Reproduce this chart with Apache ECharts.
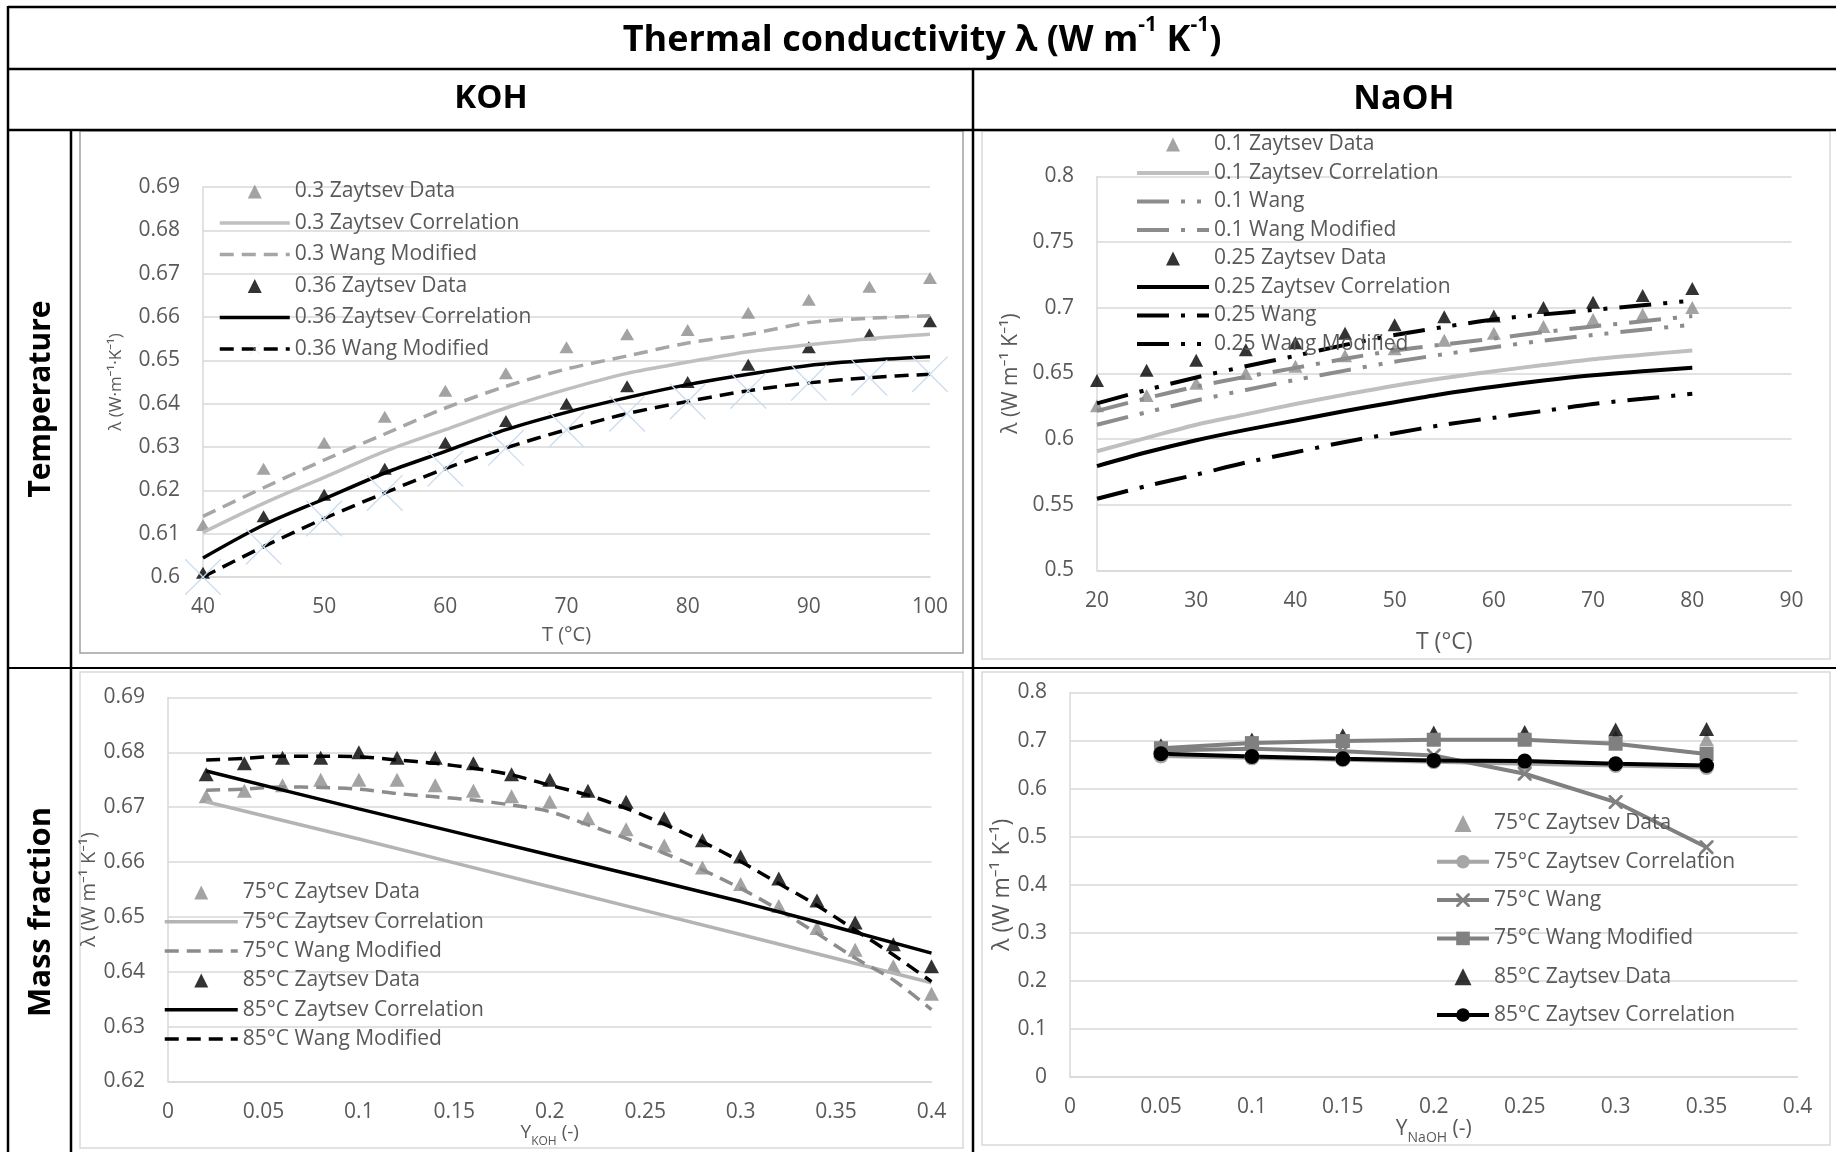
<!DOCTYPE html>
<html><head><meta charset="utf-8">
<script src="https://cdn.jsdelivr.net/npm/echarts@6/dist/echarts.min.js"></script>
<style>html,body{margin:0;padding:0;background:#fff}#c{width:1836px;height:1152px}</style>
</head><body><div id="c"></div>
<script>
// ---------------- DATA ----------------
// KOH vs temperature
const kohTemps = [40,45,50,55,60,65,70,75,80,85,90,95,100];
const koh03Data    = [0.612,0.625,0.631,0.637,0.643,0.647,0.653,0.656,0.657,0.661,0.664,0.667,0.669];
const koh03Corr    = [0.6103,0.617,0.623,0.629,0.634,0.639,0.6433,0.647,0.6496,0.652,0.6536,0.655,0.656];
const koh03WangMod = [0.614,0.6206,0.627,0.633,0.639,0.644,0.648,0.651,0.654,0.656,0.6587,0.6597,0.6603];
const koh036Data    = [0.601,0.614,0.619,0.625,0.631,0.636,0.640,0.644,0.645,0.649,0.653,0.656,0.659];
const koh036Corr    = [0.6044,0.612,0.618,0.624,0.629,0.634,0.638,0.6414,0.6444,0.6468,0.6488,0.650,0.6508];
const koh036WangMod = [0.600,0.607,0.6135,0.6194,0.625,0.6298,0.634,0.6377,0.6405,0.643,0.6448,0.646,0.6468];

// NaOH vs temperature
const naTemps = [20,25,30,35,40,45,50,55,60,65,70,75,80];
const na01Data    = [0.6255,0.6333,0.6425,0.650,0.6556,0.6635,0.6688,0.6753,0.6806,0.6858,0.6911,0.695,0.7003];
const na01Corr    = [0.5908,0.601,0.611,0.6189,0.6268,0.6339,0.6407,0.6465,0.6517,0.6564,0.6609,0.6643,0.6675];
const na01Wang    = [0.611,0.6205,0.6294,0.6375,0.6451,0.6522,0.659,0.6647,0.670,0.675,0.6793,0.6833,0.6871];
const na01WangMod = [0.6215,0.6312,0.640,0.6475,0.6543,0.6612,0.6675,0.6722,0.6766,0.6815,0.6858,0.6898,0.6937];
const na025Data    = [0.6446,0.6525,0.660,0.668,0.6735,0.6806,0.6871,0.6932,0.6937,0.7003,0.7042,0.7094,0.7147];
const na025Corr    = [0.5795,0.590,0.5992,0.6071,0.6142,0.6215,0.6281,0.6346,0.6399,0.6446,0.6486,0.6517,0.6543];
const na025Wang    = [0.5546,0.5643,0.573,0.5822,0.590,0.5979,0.6045,0.611,0.6163,0.6215,0.6268,0.6307,0.6346];
const na025WangMod = [0.6273,0.6375,0.647,0.6555,0.6635,0.6718,0.6793,0.6855,0.6911,0.695,0.6984,0.702,0.7055];

// KOH vs mass fraction
const kohFrac = [0.02,0.04,0.06,0.08,0.10,0.12,0.14,0.16,0.18,0.20,0.22,0.24,0.26,0.28,0.30,0.32,0.34,0.36,0.38,0.40];
const koh75Data = [0.672,0.673,0.674,0.675,0.675,0.675,0.674,0.673,0.672,0.671,0.668,0.666,0.663,0.659,0.656,0.652,0.648,0.644,0.641,0.636];
const koh85Data = [0.676,0.678,0.679,0.679,0.680,0.679,0.679,0.678,0.676,0.675,0.673,0.671,0.668,0.664,0.661,0.657,0.653,0.649,0.645,0.641];
const koh75WangMod = [0.6731,0.6733,0.6737,0.6736,0.6733,0.6725,0.6719,0.6713,0.6704,0.6692,0.6668,0.6643,0.6616,0.6586,0.6552,0.6513,0.647,0.6425,0.6385,0.6331];
const koh85WangMod = [0.6786,0.6789,0.6793,0.6793,0.6792,0.6786,0.678,0.6771,0.6759,0.674,0.6722,0.6698,0.6669,0.6637,0.6601,0.6561,0.6521,0.6476,0.6431,0.6382];
const kohCorrFrac = [0.02,0.10,0.20,0.30,0.40];
const koh75Corr = [0.671,0.6642,0.6555,0.6468,0.638];
const koh85Corr = [0.6766,0.6697,0.6613,0.6528,0.6434];

// NaOH vs mass fraction
const naFrac = [0.05,0.10,0.15,0.20,0.25,0.30,0.35];
const na75Data    = [0.686,0.695,0.702,0.706,0.707,0.707,0.702];
const na75Corr    = [0.668,0.664,0.660,0.656,0.652,0.648,0.644];
const na75Wang    = [0.6795,0.683,0.678,0.669,0.631,0.572,0.478];
const na75WangMod = [0.684,0.6947,0.699,0.7017,0.7017,0.6934,0.672];
const na85Data    = [0.690,0.702,0.711,0.717,0.718,0.723,0.724];
const na85Corr    = [0.6726,0.667,0.6622,0.6587,0.6573,0.6518,0.648];

// axis tick settings
const axT1 = {xmin:40, xmax:100, xint:10, ymin:0.6, ymax:0.69, yint:0.01};
const axT2 = {xmin:20, xmax:90, xint:10, ymin:0.5, ymax:0.8, yint:0.05};
const axM1 = {xmin:0, xmax:0.4, xint:0.05, ymin:0.62, ymax:0.69, yint:0.01};
const axM2 = {xmin:0, xmax:0.4, xint:0.05, ymin:0, ymax:0.8, yint:0.1};

// ---------------- STYLE ----------------
const FONT = "'Open Sans','Noto Sans',sans-serif";
const TXT = '#595959';
const GRIDC = '#D9D9D9';
const pairs = (xs, ys) => xs.map((x, i) => [x, ys[i]]);
const fmt = v => String(parseFloat((+v).toFixed(3)));
const X_BOLD = 'path://M0,0 L14,0 L100,86 L100,100 L86,100 L0,14 Z M100,0 L100,14 L14,100 L0,100 L0,86 L86,0 Z';
const X_THIN = 'path://M0,0 L2.5,0 L100,97.5 L100,100 L97.5,100 L0,2.5 Z M100,0 L100,2.5 L2.5,100 L0,100 L0,97.5 L97.5,0 Z';
const Z = '\u200b';
// legend icon: small triangle centred in the full legend icon box
function triIcon(w, h) {
  const c = w / 2, hw = h * 0.5;
  return `path://M0,0 M${w},${h} M${c - hw},${h} L${c},0 L${c + hw},${h} Z`;
}

function tri(name, g, xs, ys, color, size) {
  return {type:'scatter', name, xAxisIndex:g, yAxisIndex:g, data:pairs(xs, ys),
    symbol:'triangle', symbolSize:size, itemStyle:{color}, silent:true};
}
function ln(name, g, xs, ys, color, width, type, smooth, extra) {
  return Object.assign({type:'line', name, xAxisIndex:g, yAxisIndex:g, data:pairs(xs, ys),
    symbol:'none', smooth:smooth, silent:true,
    lineStyle:{color, width, type, cap:'butt'}, itemStyle:{color}}, extra || {});
}
function xAx(g, a, name, nameGap, nameStyle) {
  return {type:'value', gridIndex:g, min:a.xmin, max:a.xmax, interval:a.xint,
    name, nameLocation:'middle', nameGap, nameTextStyle:Object.assign({color:TXT, fontFamily:FONT}, nameStyle),
    axisLine:{show:true, onZero:false, lineStyle:{color:GRIDC, width:1.5}}, axisTick:{show:false},
    axisLabel:{color:TXT, fontSize:21, fontFamily:FONT, margin:20, formatter:fmt},
    splitLine:{show:false}};
}
function yAx(g, a, name, nameGap, fs) {
  return {type:'value', gridIndex:g, min:a.ymin, max:a.ymax, interval:a.yint,
    name, nameLocation:'middle', nameGap, nameRotate:90,
    nameTextStyle:{color:TXT, fontFamily:FONT, fontSize:fs},
    axisLine:{show:true, onZero:false, lineStyle:{color:GRIDC, width:1.5}}, axisTick:{show:false},
    axisLabel:{color:TXT, fontSize:21, fontFamily:FONT, margin:23, formatter:fmt},
    splitLine:{show:true, lineStyle:{color:GRIDC, width:1.5}}};
}
// item kinds: 't' = triangle marker only, 'l' = line without marker, 'm' = line with marker
function leg(items, left, top, itemWidth, itemGap, itemHeight) {
  const ih = itemHeight || 14;
  return {orient:'vertical', left, top, padding:0, itemWidth, itemHeight:ih, itemGap,
    selectedMode:false,
    lineStyle:{width:'inherit'},
    data:items.map(([name, kind]) => kind === 't'
      ? {name, icon:triIcon(itemWidth, ih)}
      : kind === 'l' ? {name, itemStyle:{opacity:0}} : {name}),
    formatter:n => n.replace(Z, ''),
    textStyle:{color:TXT, fontSize:21, fontFamily:FONT, lineHeight:20}};
}

const series = [
  // chart 0 : KOH temperature
  tri('0.3 Zaytsev Data', 0, kohTemps, koh03Data, '#8C8C8C', [14,12]),
  ln('0.3 Zaytsev Correlation', 0, kohTemps, koh03Corr, '#BFBFBF', 3.5, 'solid', 0.3),
  ln('0.3 Wang Modified', 0, kohTemps, koh03WangMod, '#A6A6A6', 3.5, [14,8], 0.3),
  tri('0.36 Zaytsev Data', 0, kohTemps, koh036Data, '#000000', [14,12]),
  ln('0.36 Zaytsev Correlation', 0, kohTemps, koh036Corr, '#000000', 3.5, 'solid', 0.3),
  ln('0.36 Wang Modified', 0, kohTemps, koh036WangMod, '#000000', 3.5, [14,8], 0.3,
     {symbol:X_THIN, symbolSize:36, showSymbol:true, itemStyle:{color:'#C9DCEF'}}),
  // chart 1 : NaOH temperature
  tri('0.1 Zaytsev Data', 1, naTemps, na01Data, '#8C8C8C', [14,13]),
  ln('0.1 Zaytsev Correlation', 1, naTemps, na01Corr, '#BFBFBF', 4, 'solid', 0.3),
  ln('0.1 Wang', 1, naTemps, na01Wang, '#8C8C8C', 4, [32,12,4,12,4,12], 0.3),
  ln('0.1 Wang Modified', 1, naTemps, na01WangMod, '#8C8C8C', 4, [32,12,4,12], 0.3),
  tri('0.25 Zaytsev Data', 1, naTemps, na025Data, '#000000', [14,13]),
  ln('0.25 Zaytsev Correlation', 1, naTemps, na025Corr, '#000000', 4, 'solid', 0.3),
  ln('0.25 Wang', 1, naTemps, na025Wang, '#000000', 4, [32,12,4,12], 0.3),
  ln('0.25 Wang Modified', 1, naTemps, na025WangMod, '#000000', 4, [32,12,4,12,4,12], 0.3),
  // chart 2 : KOH mass fraction
  tri('75°C Zaytsev Data', 2, kohFrac, koh75Data, '#8C8C8C', [15,14]),
  ln('75°C Zaytsev Correlation', 2, kohCorrFrac, koh75Corr, '#B4B4B4', 3.5, 'solid', 0.2),
  ln('75°C Wang Modified', 2, kohFrac, koh75WangMod, '#8C8C8C', 3.5, [14,8], 0.3),
  tri('85°C Zaytsev Data', 2, kohFrac, koh85Data, '#000000', [15,14]),
  ln('85°C Zaytsev Correlation', 2, kohCorrFrac, koh85Corr, '#000000', 3.5, 'solid', 0.2),
  ln('85°C Wang Modified', 2, kohFrac, koh85WangMod, '#000000', 3.5, [14,8], 0.3),
  // chart 3 : NaOH mass fraction
  tri('75°C Zaytsev Data' + Z, 3, naFrac, na75Data, '#8C8C8C', [15,14]),
  ln('75°C Zaytsev Correlation' + Z, 3, naFrac, na75Corr, '#A6A6A6', 4, 'solid', false,
     {symbol:'circle', symbolSize:15, showSymbol:true}),
  ln('75°C Wang', 3, naFrac, na75Wang, '#808080', 4, 'solid', false,
     {symbol:X_BOLD, symbolSize:14, showSymbol:true}),
  ln('75°C Wang Modified' + Z, 3, naFrac, na75WangMod, '#808080', 4, 'solid', false,
     {symbol:'rect', symbolSize:14, showSymbol:true}),
  tri('85°C Zaytsev Data' + Z, 3, naFrac, na85Data, '#000000', [15,14]),
  ln('85°C Zaytsev Correlation' + Z, 3, naFrac, na85Corr, '#000000', 4, 'solid', false,
     {symbol:'circle', symbolSize:15, showSymbol:true})
];

const supRich = {
  t:{fontSize:36, fontWeight:'bold', fontFamily:FONT, fill:'#000', lineHeight:44, verticalAlign:'bottom'},
  s:{fontSize:21, fontWeight:'bold', fontFamily:FONT, fill:'#000', lineHeight:26, verticalAlign:'top'}
};
function hLine(x1, x2, y, w) { return {type:'line', silent:true, shape:{x1, y1:y, x2, y2:y}, style:{stroke:'#000', lineWidth:w}}; }
function vLine(x, y1, y2, w) { return {type:'line', silent:true, shape:{x1:x, y1, x2:x, y2}, style:{stroke:'#000', lineWidth:w}}; }
function box(x, y, w, h, c) { return {type:'rect', silent:true, shape:{x, y, width:w, height:h}, style:{fill:'none', stroke:c, lineWidth:1.5}}; }
function label(text, x, y, size, rot) {
  return {type:'text', silent:true, x, y, rotation:rot || 0,
    style:{text, fontSize:size, fontWeight:'bold', fontFamily:FONT, fill:'#000',
      align:'center', verticalAlign:'middle', textAlign:'center', textVerticalAlign:'middle'}};
}

const option = {
  animation:false,
  backgroundColor:'#ffffff',
  grid:[
    {left:203, top:187, width:727, height:390, outerBoundsMode:'none'},
    {left:1097, top:176.5, width:694.5, height:394, outerBoundsMode:'none'},
    {left:168, top:697.5, width:763.5, height:384, outerBoundsMode:'none'},
    {left:1070, top:692.5, width:727.5, height:384.5, outerBoundsMode:'none'}
  ],
  xAxis:[
    xAx(0, axT1, 'T (°C)', 48, {fontSize:20}),
    xAx(1, axT2, 'T (°C)', 60, {fontSize:23}),
    xAx(2, axM1, '{a|Y}{b|KOH}{a| (-)}', 38, {rich:{
      a:{fontSize:19, color:TXT, fontFamily:FONT, lineHeight:24, verticalAlign:'top'},
      b:{fontSize:12, color:TXT, fontFamily:FONT, lineHeight:14, verticalAlign:'bottom'}}}),
    xAx(3, axM2, '{a|Y}{b|NaOH}{a| (-)}', 41, {rich:{
      a:{fontSize:21, color:TXT, fontFamily:FONT, lineHeight:26, verticalAlign:'top'},
      b:{fontSize:14, color:TXT, fontFamily:FONT, lineHeight:15, verticalAlign:'bottom'}}})
  ],
  yAxis:[
    yAx(0, axT1, 'λ (W·m⁻¹·K⁻¹)', 78, 17),
    yAx(1, axT2, 'λ (W m⁻¹ K⁻¹)', 75, 21),
    yAx(2, axM1, 'λ (W m⁻¹ K⁻¹)', 56, 20),
    yAx(3, axM2, 'λ (W m⁻¹ K⁻¹)', 47, 23)
  ],
  legend:[
    leg([['0.3 Zaytsev Data','t'],['0.3 Zaytsev Correlation','l'],['0.3 Wang Modified','l'],
         ['0.36 Zaytsev Data','t'],['0.36 Zaytsev Correlation','l'],['0.36 Wang Modified','m']], 218, 181, 70, 10.5),
    leg([['0.1 Zaytsev Data','t'],['0.1 Zaytsev Correlation','l'],['0.1 Wang','l'],['0.1 Wang Modified','l'],
         ['0.25 Zaytsev Data','t'],['0.25 Zaytsev Correlation','l'],['0.25 Wang','l'],['0.25 Wang Modified','l']], 1135, 134, 72, 7.5),
    leg([['75°C Zaytsev Data','t'],['75°C Zaytsev Correlation','l'],['75°C Wang Modified','l'],
         ['85°C Zaytsev Data','t'],['85°C Zaytsev Correlation','l'],['85°C Wang Modified','l']], 163, 882, 73, 8.3),
    leg([['75°C Zaytsev Data'+Z,'t'],['75°C Zaytsev Correlation'+Z,'m'],['75°C Wang','m'],
         ['75°C Wang Modified'+Z,'m'],['85°C Zaytsev Data'+Z,'t'],['85°C Zaytsev Correlation'+Z,'m']], 1435, 813, 52, 17.3, 17)
  ],
  graphic:{elements:[
    box(80, 131, 883, 522, '#A0A0A0'),
    box(982, 131, 848, 528, GRIDC),
    box(80, 672, 883, 476, GRIDC),
    box(982, 672, 848, 473, GRIDC),
    hLine(8, 1836, 7, 2.5),
    hLine(8, 1836, 69, 2.5),
    hLine(8, 1836, 130, 2.5),
    hLine(8, 1836, 668, 2),
    vLine(8, 6, 1152, 2.5),
    vLine(71, 130, 1152, 2.5),
    vLine(973, 69, 1152, 2.5),
    {type:'text', silent:true, x:922, y:37,
      style:{text:'{t|Thermal conductivity λ (W m}{s|-1}{t| K}{s|-1}{t|)}', rich:supRich,
        align:'center', verticalAlign:'middle', textAlign:'center', textVerticalAlign:'middle'}},
    label('KOH', 491, 99, 33),
    label('NaOH', 1404, 99, 34),
    label('Temperature', 41, 399, 30, Math.PI/2),
    label('Mass fraction', 41, 912, 31, Math.PI/2)
  ]},
  series
};

const chart = echarts.init(document.getElementById('c'), null, {renderer:'canvas'});
chart.setOption(option);
</script></body></html>
